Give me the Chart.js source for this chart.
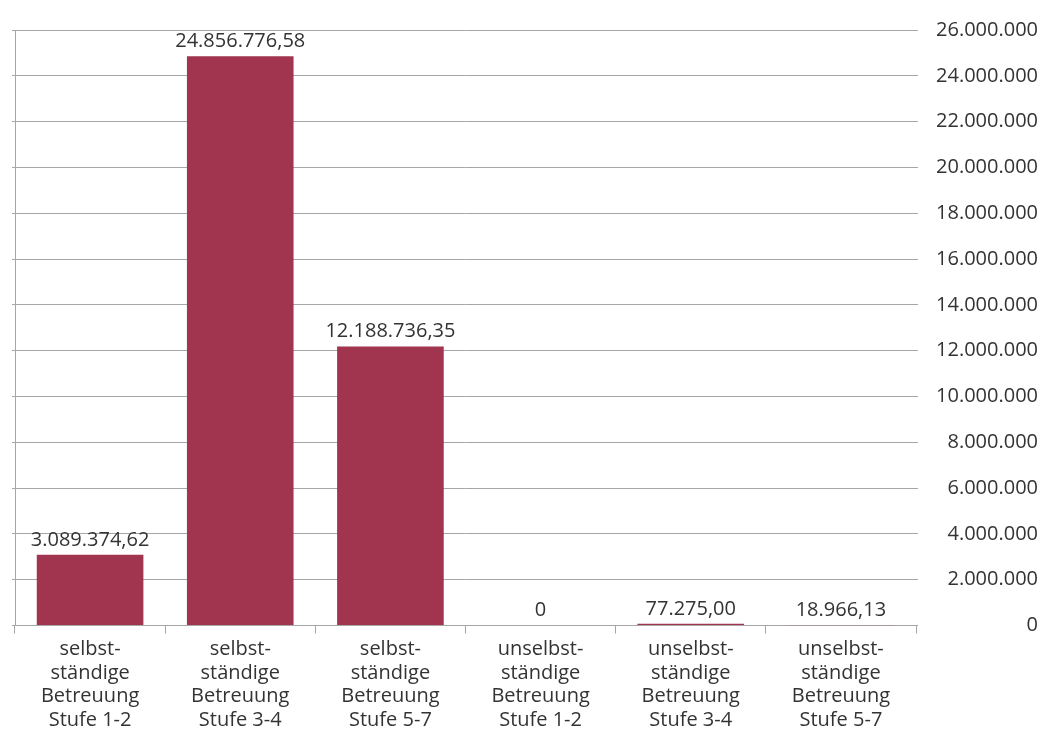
<!DOCTYPE html>
<html>
<head>
<meta charset="utf-8">
<script src="https://cdn.jsdelivr.net/npm/chart.js@4/dist/chart.umd.min.js"></script>
<style>
    html, body { margin: 0; padding: 0; background: #ffffff; }
    #wrap { width: 1044px; height: 736px; position: relative; }
</style>
</head>
<body>
<div id="wrap"><canvas id="barChart"></canvas></div>
<script>
// Categories (multiline labels)
const categories = [
    ['selbst-', 'ständige', 'Betreuung', 'Stufe 1-2'],
    ['selbst-', 'ständige', 'Betreuung', 'Stufe 3-4'],
    ['selbst-', 'ständige', 'Betreuung', 'Stufe 5-7'],
    ['unselbst-', 'ständige', 'Betreuung', 'Stufe 1-2'],
    ['unselbst-', 'ständige', 'Betreuung', 'Stufe 3-4'],
    ['unselbst-', 'ständige', 'Betreuung', 'Stufe 5-7']
];

// Series values
const values = [3089374.62, 24856776.58, 12188736.35, 0, 77275.00, 18966.13];

// Axis settings
const yMax = 26000000;
const yStep = 2000000;

const barColor = '#a1354f';
const textColor = '#333333';
const gridColor = '#a6a6a6';
const fontFamily = '"Open Sans", "Noto Sans", sans-serif';

// German number format: thousands '.', decimals ','
function formatDE(value, decimals) {
    const fixed = value.toFixed(decimals);
    const parts = fixed.split('.');
    const intPart = parts[0].replace(/\B(?=(\d{3})+(?!\d))/g, '.');
    return parts.length > 1 ? intPart + ',' + parts[1] : intPart;
}

// Value labels above bars
const valueLabels = {
    id: 'valueLabels',
    afterDatasetsDraw(chart) {
        const ctx = chart.ctx;
        const meta = chart.getDatasetMeta(0);
        ctx.save();
        ctx.font = '20px ' + fontFamily;
        ctx.fillStyle = textColor;
        ctx.textAlign = 'center';
        ctx.textBaseline = 'bottom';
        meta.data.forEach((bar, i) => {
            const v = values[i];
            const text = v === 0 ? '0' : formatDE(v, 2);
            ctx.fillText(text, bar.x, bar.y - 5);
        });
        ctx.restore();
    }
};

const ctx = document.getElementById('barChart').getContext('2d');

const barChart = new Chart(ctx, {
    type: 'bar',
    data: {
        labels: categories,
        datasets: [{
            data: values,
            backgroundColor: barColor,
            borderWidth: 0,
            categoryPercentage: 0.71,
            barPercentage: 1.0
        }]
    },
    options: {
        responsive: true,
        maintainAspectRatio: false,
        animation: false,
        layout: {
            padding: { top: 30, right: 6, left: 12, bottom: 0 }
        },
        plugins: {
            legend: { display: false },
            tooltip: { enabled: false }
        },
        scales: {
            x: {
                grid: {
                    display: true,
                    drawOnChartArea: false,
                    drawTicks: true,
                    tickLength: 8,
                    color: gridColor,
                    offset: true
                },
                border: { display: true, color: gridColor },
                ticks: {
                    color: textColor,
                    font: { family: fontFamily, size: 20, lineHeight: 1.18 },
                    maxRotation: 0,
                    autoSkip: false,
                    padding: 4
                }
            },
            y: {
                position: 'right',
                min: 0,
                max: yMax,
                afterFit: (scale) => { scale.width = 122; },
                grid: {
                    color: gridColor,
                    drawTicks: true,
                    tickLength: 2
                },
                border: { display: false },
                ticks: {
                    stepSize: yStep,
                    color: textColor,
                    font: { family: fontFamily, size: 20 },
                    crossAlign: 'far',
                    padding: 17,
                    callback: (v) => formatDE(v, 0)
                }
            },
            yLeft: {
                position: 'left',
                min: 0,
                max: yMax,
                grid: {
                    drawOnChartArea: false,
                    drawTicks: true,
                    tickLength: 3,
                    color: gridColor
                },
                border: { display: true, color: gridColor },
                ticks: { display: false, stepSize: yStep }
            }
        }
    },
    plugins: [valueLabels]
});
</script>
</body>
</html>
